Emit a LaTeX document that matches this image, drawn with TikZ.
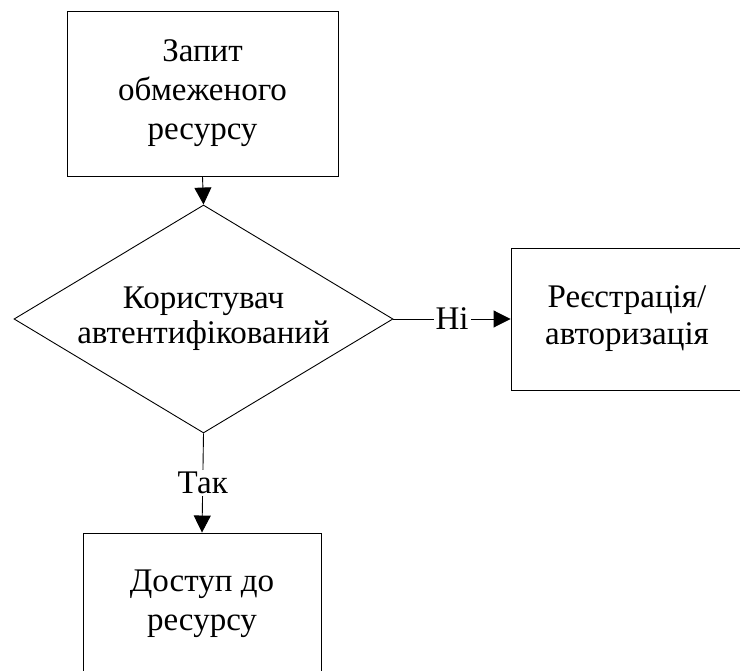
\documentclass[tikz,border=0pt]{standalone}
\usepackage{fontspec}
\setmainfont{Liberation Serif}
\newfontfamily\diagfont{Liberation Serif}
\usepackage{tikz}
\usetikzlibrary{arrows.meta,shapes.geometric}

\tikzset{
  blockbox/.style={draw, rectangle, line width=0.9pt, align=center, inner sep=0pt},
  choicebox/.style={draw, diamond, line width=0.9pt, inner sep=0pt},
  flowarrow/.style={line width=0.9pt, -{Triangle[length=17pt,width=17pt]}},
  answer/.style={fill=white, inner sep=2pt}
}

\begin{document}
\begin{tikzpicture}[x=1pt,y=-1pt,font=\diagfont\fontsize{33}{39}\selectfont]

\useasboundingbox (0,0) rectangle (740,671);

%draw blocks
\node[blockbox, minimum width=271pt, minimum height=165pt] (zapyt) at (202.5,93.5) {Запит\\обмеженого\\ресурсу};
\node[choicebox, minimum width=379pt, minimum height=228pt] (avt) at (203.5,319) {};
\node[align=center, font=\diagfont\fontsize{33}{35}\selectfont] (avttext) at (avt.center) {Користувач\\автентифікований};
\node[blockbox, minimum width=232pt, minimum height=142pt, font=\diagfont\fontsize{33}{37}\selectfont] (reiestr) at (627,319) {Реєстрація/\\авторизація};
\node[blockbox, minimum width=238pt, minimum height=142pt] (dostup) at (202,604) {Доступ до\\ресурсу};

%draw arrows
\draw[flowarrow] (zapyt.south) -- (avt.north);
\draw[flowarrow] (avt.east) -- node[answer] {Ні} (reiestr.west);
\draw[flowarrow] (avt.south) -- node[answer] {Так} (dostup.north);

\end{tikzpicture}
\end{document}
